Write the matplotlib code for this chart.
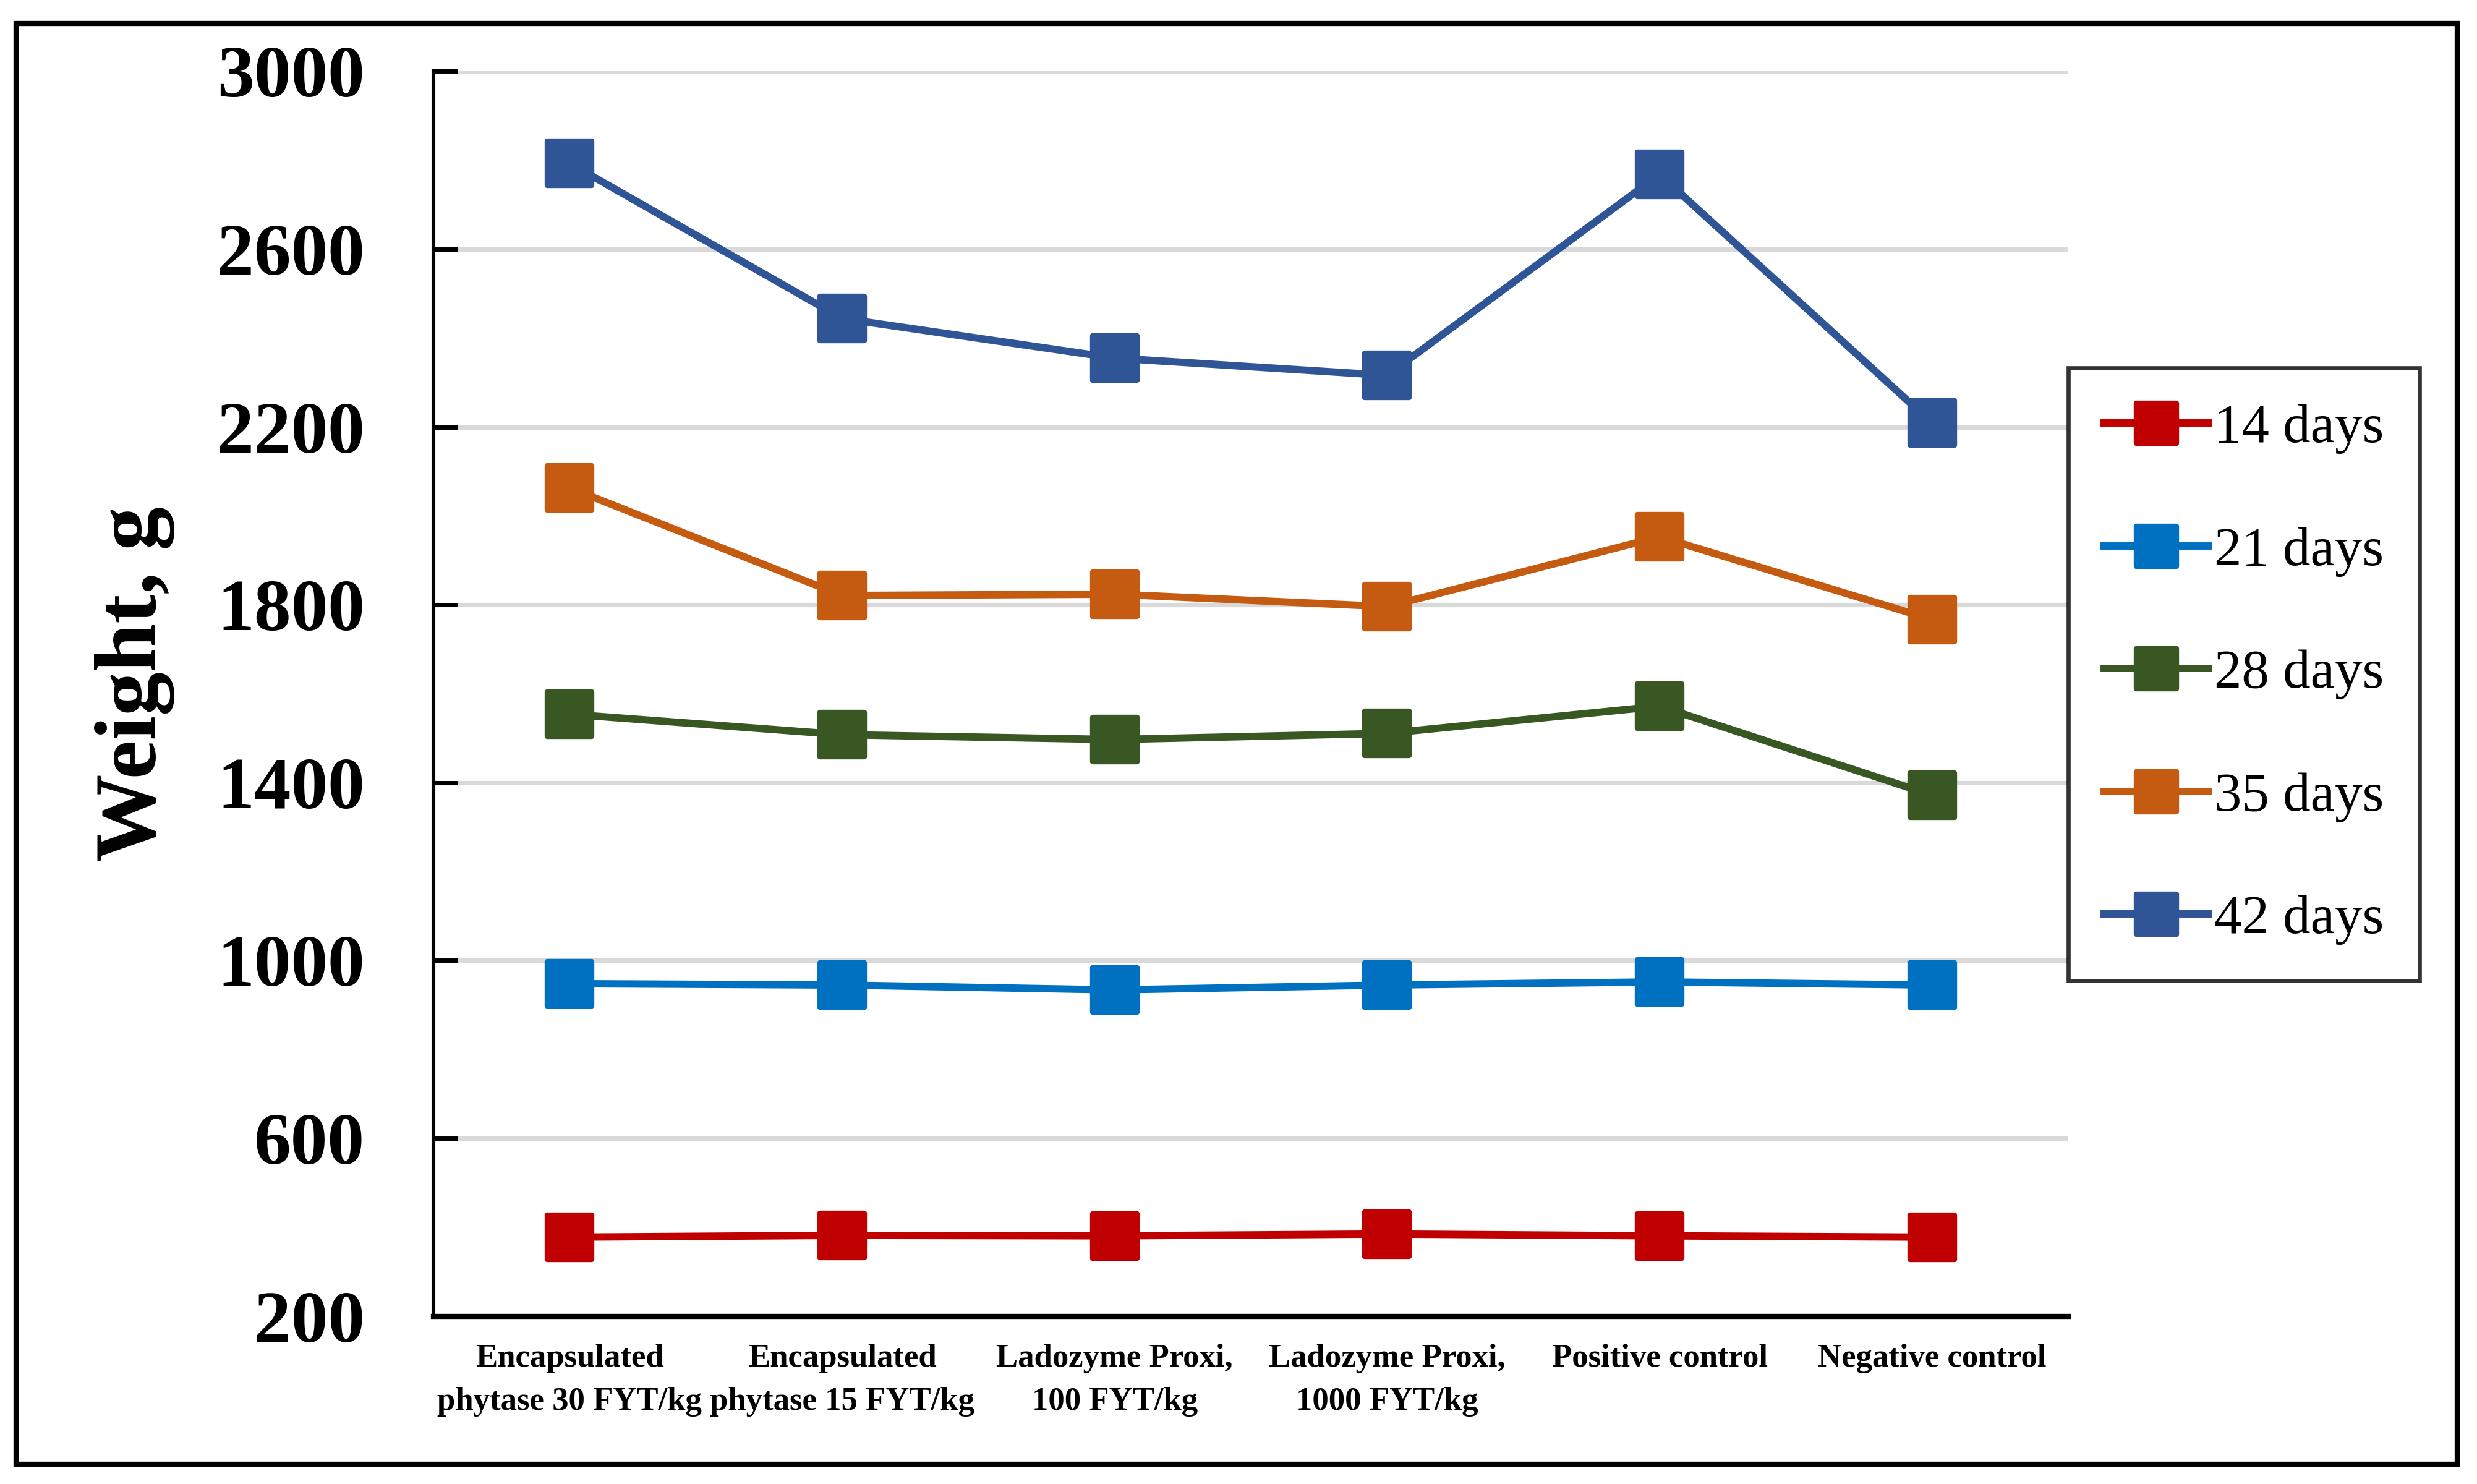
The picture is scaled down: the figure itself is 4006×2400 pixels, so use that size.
import numpy as np
import matplotlib.pyplot as plt
from matplotlib.markers import MarkerStyle
from matplotlib.patches import Rectangle

# Data
groups = ['Encapsulated\nphytase 30 FYT/kg', 'Encapsulated\nphytase 15 FYT/kg',
          'Ladozyme Proxi,\n100 FYT/kg', 'Ladozyme Proxi,\n1000 FYT/kg',
          'Positive control', 'Negative control']
series_names = ['14 days', '21 days', '28 days', '35 days', '42 days']
days14 = [378, 382, 381, 385, 381, 378]
days21 = [948, 945, 934, 945, 952, 945]
days28 = [1554, 1508, 1497, 1511, 1572, 1372]
days35 = [2063, 1821, 1824, 1796, 1953, 1767]
days42 = [2793, 2444, 2355, 2316, 2768, 2209]
colors = ['#C00000', '#0070C0', '#385723', '#C55A11', '#2F5597']
yticks = [200, 600, 1000, 1400, 1800, 2200, 2600, 3000]

plt.rcParams['font.family'] = ['Liberation Serif', 'DejaVu Serif']

fig = plt.figure(figsize=(20.03, 12), dpi=200)
ax = fig.add_axes([0.175, 0.113, 0.66, 0.839])

x = np.arange(len(groups))
marker = MarkerStyle('s', joinstyle='round')
for vals, name, c in zip([days14, days21, days28, days35, days42], series_names, colors):
    ax.plot(x, vals, color=c, lw=4.3, marker=marker, markersize=26,
            markeredgecolor=c, markeredgewidth=3, label=name, zorder=3)

ax.set_xlim(-0.5, len(groups) - 0.5)
ax.set_ylim(200, 3000)
ax.set_yticks(yticks)
ax.set_xticks(x)
ax.set_xticklabels(groups, fontsize=19, fontweight='bold', linespacing=1.6)
ax.tick_params(axis='x', length=0, pad=16)
ax.tick_params(axis='y', direction='in', length=14, width=2.5, pad=40,
               labelsize=43)
for lab in ax.get_yticklabels():
    lab.set_fontweight('bold')

ax.grid(axis='y', color='#D9D9D9', lw=2.6, zorder=0)
ax.set_axisbelow(True)
for s in ['top', 'right']:
    ax.spines[s].set_visible(False)
ax.spines['left'].set_linewidth(2.2)
ax.spines['bottom'].set_linewidth(3)

ax.set_ylabel('Weight, g', fontsize=51, fontweight='bold')
ax.yaxis.set_label_coords(-0.158, 0.508)

leg = fig.legend(loc='upper left', bbox_to_anchor=(0.835, 0.752),
                 borderaxespad=0, fontsize=32, frameon=True, fancybox=False,
                 edgecolor='black', handlelength=1.9, handletextpad=0.1,
                 labelspacing=1.32, borderpad=0.65, markerscale=0.9)
leg.get_frame().set_linewidth(2.4)

# outer border
fig.patches.append(Rectangle((0.0065, 0.0133), 0.9855, 0.9707, transform=fig.transFigure,
                             fill=False, edgecolor='black', lw=3))

fig.savefig('out.png', dpi=200)
